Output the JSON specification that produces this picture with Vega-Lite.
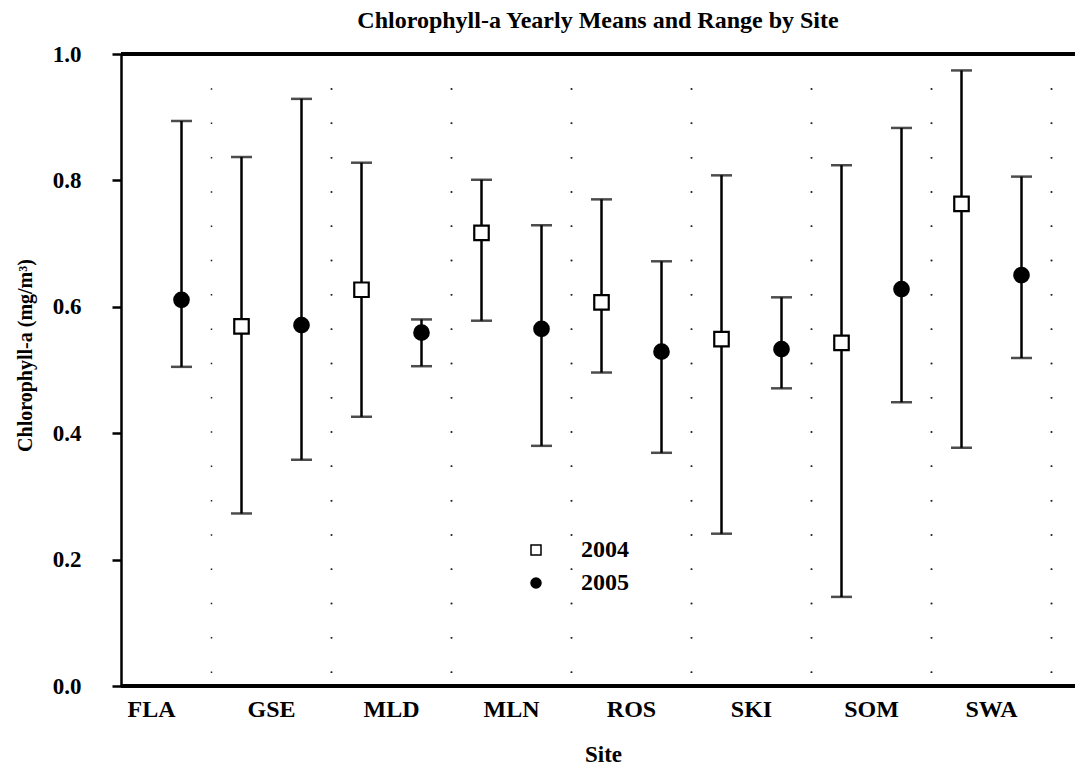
{
  "$schema": "https://vega.github.io/schema/vega-lite/v6.json",
  "width": 954,
  "height": 632,
  "autosize": {"type": "none"},
  "padding": {"left": 121, "top": 54, "right": 0, "bottom": 88},
  "background": "white",
  "config": {
    "font": "Liberation Serif",
    "view": {"stroke": null},
    "axis": {"labelColor": "black", "titleColor": "black", "domainColor": "black", "tickColor": "black"}
  },
  "title": {
    "text": "Chlorophyll-a Yearly Means and Range by Site",
    "font": "Liberation Serif",
    "fontSize": 24,
    "fontWeight": "bold",
    "anchor": "middle",
    "offset": 10,
    "color": "black"
  },
  "data": {
    "values": [
      {"site": "FLA", "year": "2005", "mean": 0.611, "lo": 0.505, "hi": 0.894},
      {"site": "GSE", "year": "2004", "mean": 0.569, "lo": 0.273, "hi": 0.837},
      {"site": "GSE", "year": "2005", "mean": 0.571, "lo": 0.358, "hi": 0.929},
      {"site": "MLD", "year": "2004", "mean": 0.627, "lo": 0.426, "hi": 0.828},
      {"site": "MLD", "year": "2005", "mean": 0.559, "lo": 0.506, "hi": 0.580},
      {"site": "MLN", "year": "2004", "mean": 0.717, "lo": 0.578, "hi": 0.801},
      {"site": "MLN", "year": "2005", "mean": 0.565, "lo": 0.380, "hi": 0.729},
      {"site": "ROS", "year": "2004", "mean": 0.607, "lo": 0.496, "hi": 0.770},
      {"site": "ROS", "year": "2005", "mean": 0.529, "lo": 0.369, "hi": 0.672},
      {"site": "SKI", "year": "2004", "mean": 0.549, "lo": 0.241, "hi": 0.808},
      {"site": "SKI", "year": "2005", "mean": 0.533, "lo": 0.471, "hi": 0.615},
      {"site": "SOM", "year": "2004", "mean": 0.543, "lo": 0.141, "hi": 0.824},
      {"site": "SOM", "year": "2005", "mean": 0.628, "lo": 0.449, "hi": 0.883},
      {"site": "SWA", "year": "2004", "mean": 0.763, "lo": 0.377, "hi": 0.974},
      {"site": "SWA", "year": "2005", "mean": 0.650, "lo": 0.519, "hi": 0.806}
    ]
  },
  "layer": [
    {
      "mark": {"type": "rule", "stroke": "#222", "strokeWidth": 1.5, "strokeDash": [1.5, 32.8]},
      "encoding": {
        "x": {
          "field": "site",
          "type": "nominal",
          "bandPosition": 1,
          "sort": ["FLA", "GSE", "MLD", "MLN", "ROS", "SKI", "SOM", "SWA"],
          "scale": {"range": [-29.5, 930.5], "paddingInner": 0, "paddingOuter": 0},
          "axis": {
            "title": "Site",
            "domain": false,
            "ticks": false,
            "grid": false,
            "labelAngle": 0,
            "labelFont": "Liberation Serif",
            "labelFontSize": 24,
            "labelFontWeight": "bold",
            "labelPadding": 11,
            "titleFont": "Liberation Serif",
            "titleFontSize": 23,
            "titleFontWeight": "bold",
            "titlePadding": 22,
            "titleX": 482
          }
        }
      }
    },
    {
      "mark": {"type": "rule", "stroke": "black", "strokeWidth": 2.5},
      "encoding": {
        "x": {"field": "site", "type": "nominal", "sort": ["FLA", "GSE", "MLD", "MLN", "ROS", "SKI", "SOM", "SWA"]},
        "xOffset": {"field": "year", "type": "nominal", "scale": {"paddingInner": 0, "paddingOuter": 0}},
        "y": {
          "field": "lo",
          "type": "quantitative",
          "scale": {"domain": [0, 1], "nice": false, "zero": true},
          "axis": {
            "title": "Chlorophyll-a (mg/m³)",
            "values": [0, 0.2, 0.4, 0.6, 0.8, 1.0],
            "format": ".1f",
            "grid": false,
            "domainWidth": 2.5,
            "tickSize": 9,
            "tickWidth": 2.5,
            "labelFont": "Liberation Serif",
            "labelFontSize": 23,
            "labelFontWeight": "bold",
            "labelPadding": 31,
            "titleFont": "Liberation Serif",
            "titleFontSize": 20,
            "titleFontWeight": "bold",
            "titlePadding": 17,
            "titleY": 301
          }
        },
        "y2": {"field": "hi"}
      }
    },
    {
      "mark": {"type": "tick", "color": "black", "size": 21, "thickness": 2.5},
      "encoding": {
        "x": {"field": "site", "type": "nominal", "sort": ["FLA", "GSE", "MLD", "MLN", "ROS", "SKI", "SOM", "SWA"]},
        "xOffset": {"field": "year", "type": "nominal"},
        "y": {"field": "hi", "type": "quantitative"}
      }
    },
    {
      "mark": {"type": "tick", "color": "black", "size": 21, "thickness": 2.5},
      "encoding": {
        "x": {"field": "site", "type": "nominal", "sort": ["FLA", "GSE", "MLD", "MLN", "ROS", "SKI", "SOM", "SWA"]},
        "xOffset": {"field": "year", "type": "nominal"},
        "y": {"field": "lo", "type": "quantitative"}
      }
    },
    {
      "mark": {"type": "rule", "stroke": "black", "strokeWidth": 2.5},
      "encoding": {"y": {"datum": 1}}
    },
    {
      "mark": {"type": "rule", "stroke": "black", "strokeWidth": 2.5},
      "encoding": {"y": {"datum": 0}}
    },
    {
      "mark": {"type": "point", "filled": false, "stroke": "black", "strokeWidth": 2.2, "opacity": 1, "size": 210},
      "encoding": {
        "x": {"field": "site", "type": "nominal", "sort": ["FLA", "GSE", "MLD", "MLN", "ROS", "SKI", "SOM", "SWA"]},
        "xOffset": {"field": "year", "type": "nominal"},
        "y": {"field": "mean", "type": "quantitative"},
        "shape": {
          "field": "year",
          "type": "nominal",
          "scale": {"domain": ["2004", "2005"], "range": ["square", "circle"]},
          "legend": {
            "title": null,
            "orient": "none",
            "legendX": 403,
            "legendY": 484,
            "padding": 0,
            "labelFont": "Liberation Serif",
            "labelFontSize": 24,
            "labelFontWeight": "bold",
            "labelColor": "black",
            "labelOffset": 33,
            "rowPadding": 9,
            "encode": {
              "symbols": {
                "update": {
                  "stroke": {"value": "black"},
                  "strokeWidth": {"value": 2.2},
                  "size": {"value": 210},
                  "opacity": {"value": 1},
                  "fill": {"signal": "datum.value === '2004' ? 'white' : 'black'"}
                }
              }
            }
          }
        },
        "fill": {
          "field": "year",
          "type": "nominal",
          "scale": {"domain": ["2004", "2005"], "range": ["white", "black"]},
          "legend": null
        }
      }
    }
  ]
}
